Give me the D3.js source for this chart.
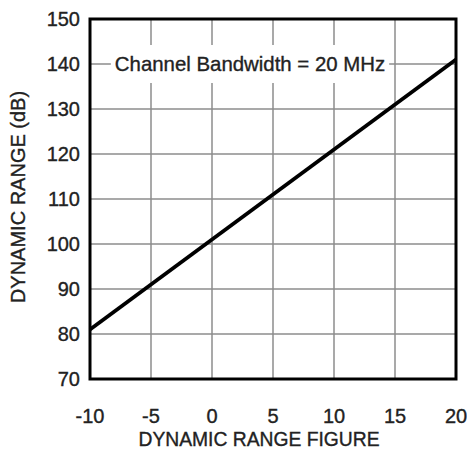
<!DOCTYPE html>
<html><head><meta charset="utf-8">
<script src="https://cdn.jsdelivr.net/npm/d3@7"></script>
<style>body{margin:0;background:#fff}text{font-family:Arial,"Liberation Sans",sans-serif;fill:#222;stroke:#222;stroke-width:0.35px}</style>
</head><body><svg id="c" width="467" height="450"></svg>
<script>
const xTicks = [-10, -5, 0, 5, 10, 15, 20];
const yTicks = [70, 80, 90, 100, 110, 120, 130, 140, 150];
const lineX = [-10, 20];
const lineY = [81, 141];
const annotation = "Channel Bandwidth = 20 MHz";
const xTitle = "DYNAMIC RANGE FIGURE";
const yTitle = "DYNAMIC RANGE (dB)";

const svg = d3.select("#c");
const L = 90, R = 456, T = 19, B = 379;
const x = d3.scaleLinear().domain([-10, 20]).range([L, R]);
const y = d3.scaleLinear().domain([70, 150]).range([B, T]);

// grid
svg.append("g").selectAll("line").data(xTicks).join("line")
  .attr("x1", d => x(d)).attr("x2", d => x(d)).attr("y1", T).attr("y2", B)
  .attr("stroke", "#8c8c8c").attr("stroke-width", 1.5);
svg.append("g").selectAll("line").data(yTicks).join("line")
  .attr("y1", d => y(d)).attr("y2", d => y(d)).attr("x1", L).attr("x2", R)
  .attr("stroke", "#8c8c8c").attr("stroke-width", 1.5);

// annotation box
const ann = svg.append("text").attr("x", 250).attr("y", y(140))
  .attr("dy", "0.35em").attr("text-anchor", "middle").attr("font-size", 20.4).text(annotation);
const bb = ann.node().getBBox();
svg.insert("rect", "text").attr("x", bb.x - 4).attr("y", y(140) - 19).attr("width", bb.width + 8).attr("height", 38).attr("fill", "#fff");

// data line
svg.append("path").datum(lineX.map((d, i) => [d, lineY[i]]))
  .attr("d", d3.line().x(d => x(d[0])).y(d => y(d[1])))
  .attr("fill", "none").attr("stroke", "#000").attr("stroke-width", 3.8);

// frame
svg.append("rect").attr("x", L).attr("y", T).attr("width", R - L).attr("height", B - T)
  .attr("fill", "none").attr("stroke", "#000").attr("stroke-width", 3);

// axes labels
svg.append("g").selectAll("text").data(yTicks).join("text")
  .attr("x", L - 10).attr("y", d => y(d)).attr("dy", "0.36em").attr("text-anchor", "end")
  .attr("font-size", 20).text(d => d);
svg.append("g").selectAll("text").data(xTicks).join("text")
  .attr("x", d => x(d)).attr("y", 415.5).attr("dy", "0.36em").attr("text-anchor", "middle")
  .attr("font-size", 20).text(d => d);
svg.append("text").attr("x", 259).attr("y", 439).attr("dy", "0.36em").attr("text-anchor", "middle")
  .attr("font-size", 19.3).text(xTitle);
svg.append("text").attr("transform", `translate(18,197) rotate(-90)`).attr("dy", "0.36em")
  .attr("text-anchor", "middle").attr("font-size", 20).text(yTitle);
</script></body></html>
